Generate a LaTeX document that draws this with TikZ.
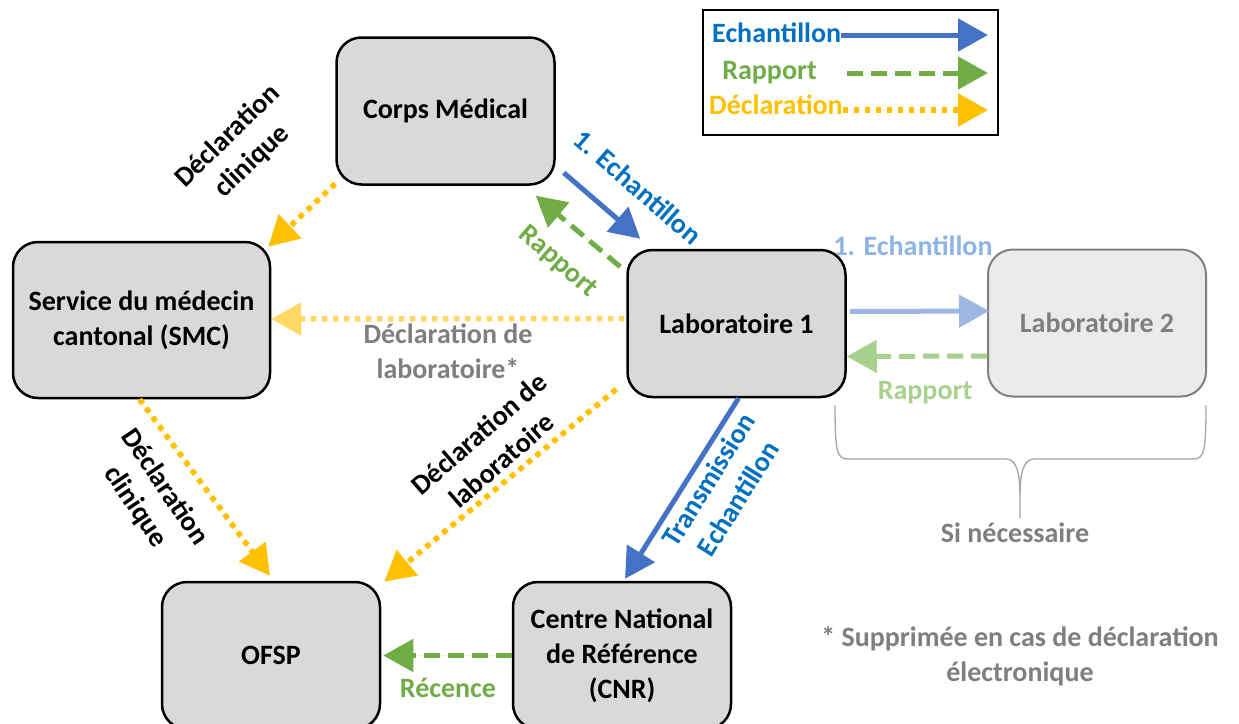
\documentclass[tikz,border=0pt]{standalone}
\usepackage{fontspec}
\setmainfont{Carlito}
\usetikzlibrary{arrows.meta,calc}
\definecolor{eblue}{HTML}{4472C4}
\definecolor{etext}{HTML}{0070C0}
\definecolor{rgreen}{HTML}{70AD47}
\definecolor{dyellow}{HTML}{FFC000}
\definecolor{lblue}{HTML}{9DB6E2}
\definecolor{lbluetext}{HTML}{8DB4E2}
\definecolor{lgreen}{HTML}{A9D18E}
\definecolor{pyellow}{HTML}{FFD966}
\definecolor{graytext}{HTML}{7F7F7F}
\definecolor{boxgray}{HTML}{D9D9D9}
\definecolor{lboxgray}{HTML}{EBEBEB}
\definecolor{bracegray}{HTML}{A6A6A6}
\begin{document}
\begin{tikzpicture}[x=1pt,y=-1pt,
  every node/.style={font=\fontsize{28}{35}\selectfont\bfseries, inner sep=0pt},
  box/.style={draw=black, line width=2.5pt, fill=boxgray, rounded corners=25pt,
    minimum width=218pt, minimum height=147pt, align=center, text=black},
  tip/.style={-{Triangle[length=30pt,width=32pt]}},
  samp/.style={tip, draw=eblue, fill=eblue, line width=5pt},
  rapp/.style={tip, draw=rgreen, fill=rgreen, line width=5pt, dash pattern=on 16pt off 8pt},
  decl/.style={tip, draw=dyellow, fill=dyellow, line width=5.5pt, dash pattern=on 5.5pt off 5.5pt},
  lbl/.style={align=center}
]
\path[use as bounding box] (0,0) rectangle (1239,723);
\clip (0,0) rectangle (1239,723);
\fill[white] (0,0) rectangle (1239,723);

% boxes
\node[box] (corps) at (445.5,111) {Corps Médical};
\node[box, minimum width=257pt, minimum height=156pt] (smc) at (141.5,320) {Service du médecin\\cantonal (SMC)};
\node[box] (labo1) at (736.5,323.5) {Laboratoire 1};
\node[box, fill=lboxgray, draw=gray, line width=2pt, text=graytext] (labo2) at (1097,323) {Laboratoire 2};
\node[box] (ofsp) at (271,655.5) {OFSP};
\node[box] (cnr) at (622,655.5) {Centre National\\de Référence\\(CNR)};

% legend
\node[draw=black, line width=2.5pt, fill=white, minimum width=295pt, minimum height=125pt] (legend) at (850.5,72.5) {};
\node[text=etext, anchor=west] (lgE) at (712,33) {Echantillon};
\coordinate (lgEend) at (988,35);
\draw[samp] (lgE.east|-lgEend) -- (lgEend);
\node[text=rgreen] (lgR) at (769.5,73) {Rapport};
\coordinate (lgRs) at (847,73);
\coordinate (lgRend) at (988,73);
\draw[rapp] (lgRs) -- (lgRend);
\node[text=dyellow, anchor=west] (lgD) at (709,105) {Déclaration};
\coordinate (lgDend) at (988,110);
\draw[decl] (lgD.east|-lgDend) -- (lgDend);

% arrows
\draw[samp] ($(corps.south east)+(8,-13)$) -- ($(labo1.north west)+(14,-10)$);
\draw[rapp] ($(labo1.north west)+(-6,18)$) -- ($(corps.south east)+(-20,10)$);
\draw[decl] ($(corps.south west)+(0,-2)$) -- ($(smc.north east)+(-3,6)$);
\draw[decl, draw=pyellow, fill=pyellow] ($(labo1.west)+(-2,-5)$) -- ($(smc.east)+(0,-1)$);
\draw[decl] ($(smc.south)+(-2,0)$) -- ($(ofsp.north)+(-1,-5)$);
\draw[decl] ($(labo1.south west)+(-10,-9)$) -- ($(ofsp.north east)+(3,1)$);
\draw[samp] ($(labo1.south)+(2,0)$) -- ($(cnr.north)+(3,-2)$);
\draw[rapp] (cnr.west) -- ($(ofsp.east)+(2,0)$);
\draw[samp, draw=lblue, fill=lblue] ($(labo1.east)+(3,-12)$) -- ($(labo2.west)+(2,-12)$);
\draw[rapp, draw=lgreen, fill=lgreen] ($(labo2.west)+(0,33)$) -- ($(labo1.east)+(0,33)$);

% labels
\node[lbl, text=etext, rotate=-41] (l1) at (638,187) {1. Echantillon};
\node[lbl, text=rgreen, rotate=-41] (l2) at (558,262) {Rapport};
\node[lbl, rotate=44] (l3) at (240,149) {Déclaration\\clinique};
\node[lbl, text=graytext] (l4) at (448,351) {Déclaration de\\laboratoire*};
\node[lbl, rotate=-56] (l5) at (150,497) {Déclaration\\clinique};
\node[lbl, rotate=41] (l6) at (490,447) {Déclaration de\\laboratoire};
\node[lbl, text=etext, rotate=58] (l7) at (723,489) {Transmission\\Echantillon};
\node[lbl, text=rgreen] (l8) at (448,688) {Récence};
\node[lbl, text=lbluetext] (l9) at (913,246) {1. Echantillon};
\node[lbl, text=lgreen] (l10) at (925,393) {Rapport};

% brace
\coordinate (bL) at (835,405);
\coordinate (bR) at (1206,405);
\coordinate (bM) at (1020,518);
\draw[bracegray, line width=1.3pt]
  (bL) .. controls (835,452) and (837,459) .. (848,459) -- (1006,459)
  .. controls (1016,459) and (1020,472) .. (1020,495) -- (bM);
\draw[bracegray, line width=1.3pt]
  (bR) .. controls (1206,452) and (1204,459) .. (1193,459) -- (1034,459)
  .. controls (1024,459) and (1020,472) .. (1020,495);
\node[text=graytext] (si) at (1015,533) {Si nécessaire};
\node[lbl, text=graytext] (note) at (1020,656) {* Supprimée en cas de déclaration\\électronique};
\end{tikzpicture}
\end{document}
